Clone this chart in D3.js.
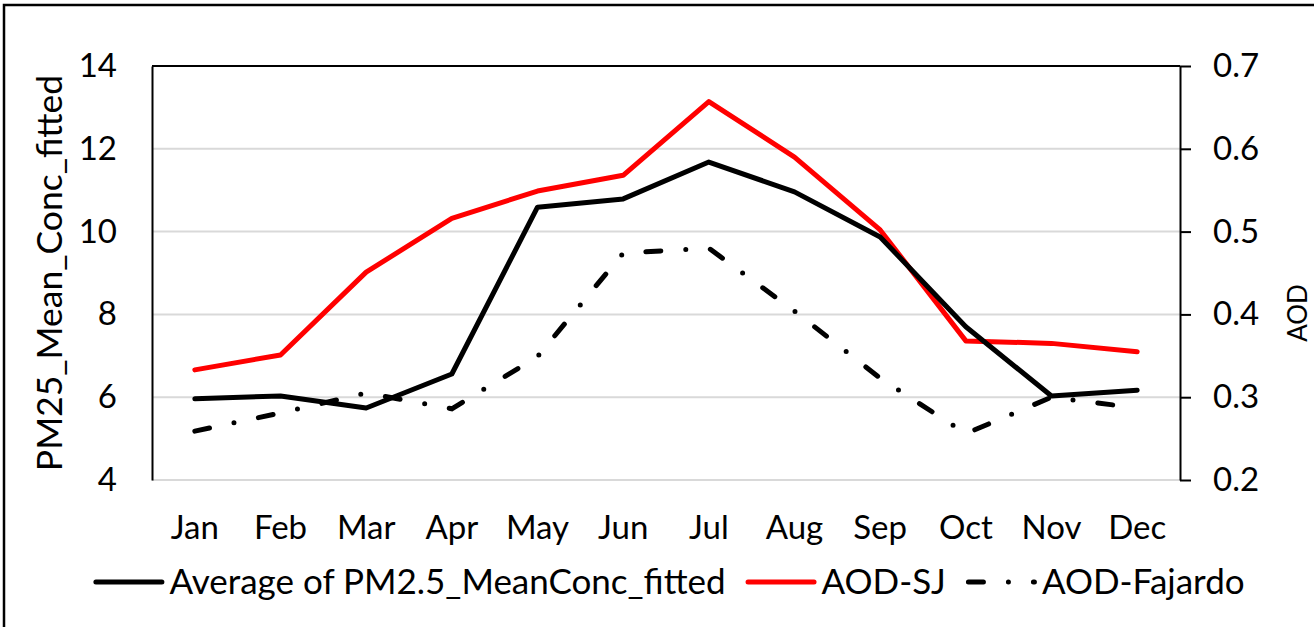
<!DOCTYPE html>
<html>
<head>
<meta charset="utf-8">
<script src="https://cdn.jsdelivr.net/npm/d3@7"></script>
<style>
  body { margin: 0; background: #fff; }
  text { font-family: Lato, "Open Sans", sans-serif; fill: #000; }
</style>
</head>
<body>
<script>
var width = 1314, height = 627

// data
var months = ["Jan", "Feb", "Mar", "Apr", "May", "Jun", "Jul", "Aug", "Sep", "Oct", "Nov", "Dec"]
var pm25 = [5.96, 6.03, 5.74, 6.56, 10.59, 10.79, 11.68, 10.96, 9.87, 7.70, 6.03, 6.17]
var aodSJ = [0.333, 0.351, 0.451, 0.516, 0.549, 0.568, 0.657, 0.590, 0.502, 0.368, 0.365, 0.355]
var aodFajardo = [0.259, 0.281, 0.305, 0.286, 0.349, 0.474, 0.480, 0.404, 0.323, 0.256, 0.300, 0.287]
var leftTicks = [4, 6, 8, 10, 12, 14]
var rightTicks = [0.2, 0.3, 0.4, 0.5, 0.6, 0.7]
var seriesNames = ["Average of PM2.5_MeanConc_fitted", "AOD-SJ", "AOD-Fajardo"]

var margin = {top: 66, right: 134, bottom: 147, left: 152}
var plotW = width - margin.left - margin.right
var plotH = height - margin.top - margin.bottom

var svg = d3.select("body").append("svg")
  .attr("width", width)
  .attr("height", height)

// outer chart frame (cropped at right / bottom)
svg.append("rect")
  .attr("x", 4).attr("y", 5)
  .attr("width", width + 20).attr("height", height + 20)
  .attr("fill", "#fff")
  .attr("stroke", "#000")
  .attr("stroke-width", 2.5)

var g = svg.append("g")
  .attr("transform", "translate(" + margin.left + "," + margin.top + ")")

var x = d3.scaleBand().domain(months).range([0, plotW])
var yL = d3.scaleLinear().domain([4, 14]).range([plotH, 0])
var yR = d3.scaleLinear().domain([0.2, 0.7]).range([plotH, 0])

// gridlines
g.append("g")
  .selectAll("line")
  .data(leftTicks.slice(0, -1))
  .enter().append("line")
  .attr("x1", 0).attr("x2", plotW)
  .attr("y1", function(d) { return yL(d) })
  .attr("y2", function(d) { return yL(d) })
  .attr("stroke", "#d9d9d9")
  .attr("stroke-width", 2)

// top border line
g.append("line")
  .attr("x1", 0).attr("x2", plotW)
  .attr("y1", yL(14)).attr("y2", yL(14))
  .attr("stroke", "#000").attr("stroke-width", 2)

// left axis
var leftAxis = g.append("g")
  .call(d3.axisLeft(yL).tickValues(leftTicks).tickSize(0).tickPadding(35))
leftAxis.select(".domain").attr("stroke", "#000").attr("stroke-width", 2)
leftAxis.selectAll("text").style("font-size", "33px").attr("font-family", null)

// right axis
var rightAxis = g.append("g")
  .attr("transform", "translate(" + plotW + ",0)")
  .call(d3.axisRight(yR).tickValues(rightTicks).tickSize(11).tickSizeOuter(0).tickPadding(22)
    .tickFormat(d3.format(".1f")))
rightAxis.select(".domain").attr("stroke", "#000").attr("stroke-width", 2)
rightAxis.selectAll("line").attr("stroke", "#000").attr("stroke-width", 2)
rightAxis.selectAll("text").style("font-size", "33px").attr("font-family", null)

// x axis labels
var bottomAxis = g.append("g")
  .attr("transform", "translate(0," + plotH + ")")
  .call(d3.axisBottom(x).tickSize(0).tickPadding(36))
bottomAxis.select(".domain").remove()
bottomAxis.selectAll("text").style("font-size", "33px").attr("font-family", null)

// axis titles
svg.append("text")
  .attr("transform", "translate(62," + (margin.top + plotH / 2) + ") rotate(-90)")
  .attr("text-anchor", "middle")
  .style("font-size", "35.5px")
  .text("PM25_Mean_Conc_fitted")

svg.append("text")
  .attr("transform", "translate(1307,313) rotate(-90)")
  .attr("text-anchor", "middle")
  .style("font-size", "26px")
  .text("AOD")

// lines
var cx = function(d, i) { return x(months[i]) + x.bandwidth() / 2 }
var lineL = d3.line().x(cx).y(function(d) { return yL(d) })
var lineR = d3.line().x(cx).y(function(d) { return yR(d) })

var dashFajardo = "15,25,0,25"

g.append("path")
  .datum(aodFajardo)
  .attr("d", lineR)
  .attr("fill", "none")
  .attr("stroke", "#000")
  .attr("stroke-width", 5)
  .attr("stroke-linecap", "round")
  .attr("stroke-dasharray", dashFajardo)

g.append("path")
  .datum(aodSJ)
  .attr("d", lineR)
  .attr("fill", "none")
  .attr("stroke", "#ff0000")
  .attr("stroke-width", 5)
  .attr("stroke-linejoin", "round")
  .attr("stroke-linecap", "round")

g.append("path")
  .datum(pm25)
  .attr("d", lineL)
  .attr("fill", "none")
  .attr("stroke", "#000")
  .attr("stroke-width", 5)
  .attr("stroke-linejoin", "round")
  .attr("stroke-linecap", "round")

// legend
var legendStyles = [
  {color: "#000", dash: null},
  {color: "#ff0000", dash: null},
  {color: "#000", dash: dashFajardo}
]
var legend = svg.append("g")
var lx = 0
seriesNames.forEach(function(name, i) {
  var item = legend.append("g").attr("transform", "translate(" + lx + ",0)")
  item.append("line")
    .attr("x1", 2.5).attr("x2", 68.5)
    .attr("y1", 0).attr("y2", 0)
    .attr("stroke", legendStyles[i].color)
    .attr("stroke-width", 5)
    .attr("stroke-linecap", "round")
    .attr("stroke-dasharray", legendStyles[i].dash)
  var t = item.append("text")
    .attr("x", 76).attr("y", 12)
    .style("font-size", "35px")
    .text(name)
  lx += 76 + t.node().getComputedTextLength() + 20
})
var legendW = lx - 20
legend.attr("transform", "translate(" + (669 - legendW / 2) + ",582)")
</script>
</body>
</html>
